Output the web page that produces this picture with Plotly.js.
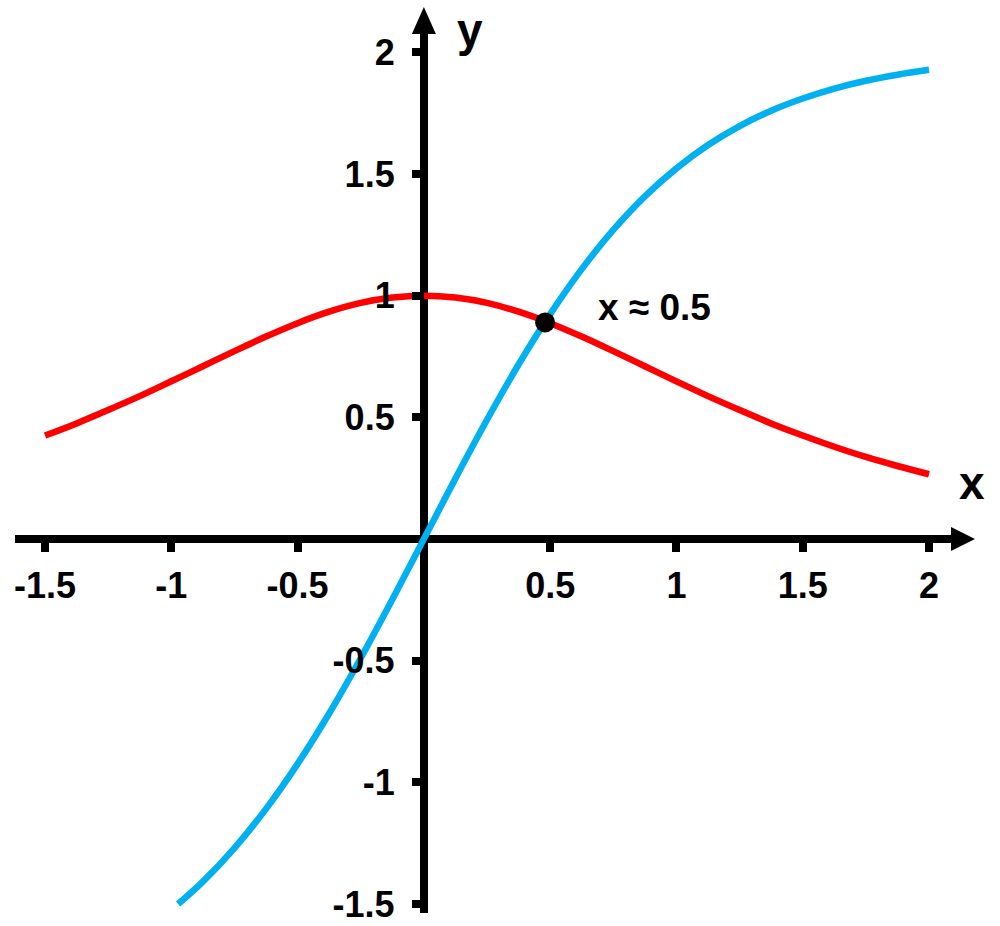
<!DOCTYPE html>
<html>
<head>
<meta charset="utf-8">
<script src="https://cdn.plot.ly/plotly-3.0.1.min.js"></script>
<style>
  html, body { margin: 0; padding: 0; background: #fff; }
  #chart { width: 1000px; height: 926px; }
</style>
</head>
<body>
<div id="chart"></div>
<script>
// values (every 1/8 along x)
var redX = [-1.5, -1.375, -1.25, -1.125, -1, -0.875, -0.75, -0.625, -0.5, -0.375, -0.25, -0.125, 0,
	0.125, 0.25, 0.375, 0.5, 0.625, 0.75, 0.875, 1, 1.125, 1.25, 1.375, 1.5, 1.625, 1.75, 1.875, 2]
var redY = [0.425, 0.475, 0.530, 0.587, 0.648, 0.710, 0.772, 0.832, 0.887, 0.934, 0.970, 0.992, 1.0,
	0.992, 0.970, 0.934, 0.887, 0.832, 0.772, 0.710, 0.648, 0.587, 0.530, 0.475, 0.425, 0.379, 0.337, 0.300, 0.266]

var blueX = [-0.973, -0.875, -0.75, -0.625, -0.5, -0.375, -0.25, -0.125, 0,
	0.125, 0.25, 0.375, 0.5, 0.625, 0.75, 0.875, 1, 1.125, 1.25, 1.375, 1.5, 1.625, 1.75, 1.875, 2]
var blueY = [-1.5, -1.408, -1.270, -1.109, -0.924, -0.717, -0.490, -0.249, 0,
	0.249, 0.490, 0.717, 0.924, 1.109, 1.270, 1.408, 1.523, 1.619, 1.697, 1.760, 1.810, 1.851, 1.883, 1.908, 1.928]

var crossX = [0.48]
var crossY = [0.89]

var xTicks = [-1.5, -1, -0.5, 0.5, 1, 1.5, 2]
var xTickText = ['-1.5', '-1', '-0.5', '0.5', '1', '1.5', '2']
var yTicks = [-1.5, -1, -0.5, 0.5, 1, 1.5, 2]
var yTickText = ['-1.5', '-1', '-0.5', '0.5', '1', '1.5', '2']

var xRange = [-1.6188, 2.1029]
var yRange = [-1.537, 2.0917]
var xDomain = [0.015, 0.955]
var yDomain = [0.01404, 0.9676]

// where zero sits inside each domain (axes cross at origin)
function zeroPos(range, domain) {
	return domain[0] + (0 - range[0]) / (range[1] - range[0]) * (domain[1] - domain[0])
}

var font = {family: 'Liberation Sans, Arial, sans-serif', color: '#000', weight: 'bold'}
var tickFont = Object.assign({}, font, {size: 36})

var redTrace = {
	x: redX, y: redY,
	mode: 'lines',
	line: {color: '#ff0000', width: 6.5, shape: 'spline'},
	hoverinfo: 'skip'
};

var blueTrace = {
	x: blueX, y: blueY,
	mode: 'lines',
	line: {color: '#00b0f0', width: 6.5, shape: 'spline'},
	hoverinfo: 'skip'
};

var dotTrace = {
	x: crossX, y: crossY,
	mode: 'markers',
	marker: {color: '#000', size: 20},
	hoverinfo: 'skip'
};

var layout = {
	width: 1000,
	height: 926,
	margin: {l: 0, r: 0, t: 0, b: 0},
	paper_bgcolor: '#fff',
	plot_bgcolor: '#fff',
	showlegend: false,
	xaxis: {
		domain: xDomain,
		range: xRange,
		anchor: 'free',
		position: zeroPos(yRange, yDomain),
		showgrid: false,
		showline: false,
		zeroline: true,
		zerolinecolor: '#000',
		zerolinewidth: 8,
		ticks: 'outside',
		ticklen: 12,
		tickwidth: 8,
		tickcolor: '#000',
		tickvals: xTicks,
		ticktext: xTickText,
		tickfont: tickFont,
		ticklabelstandoff: 3
	},
	yaxis: {
		domain: yDomain,
		range: yRange,
		anchor: 'free',
		position: zeroPos(xRange, xDomain),
		showgrid: false,
		showline: false,
		zeroline: true,
		zerolinecolor: '#000',
		zerolinewidth: 8,
		ticks: 'outside',
		ticklen: 12,
		tickwidth: 8,
		tickcolor: '#000',
		tickvals: yTicks,
		ticktext: yTickText,
		tickfont: tickFont,
		ticklabelstandoff: 10
	},
	shapes: [
		// arrow heads on the ends of the axes
		{type: 'path', xref: 'paper', yref: 'y', xsizemode: 'pixel', ysizemode: 'pixel',
		 xanchor: xDomain[1], yanchor: 0, path: 'M-4,-12 L20,0 L-4,12 Z',
		 fillcolor: '#000', line: {width: 0}},
		{type: 'path', xref: 'x', yref: 'paper', xsizemode: 'pixel', ysizemode: 'pixel',
		 xanchor: 0, yanchor: yDomain[1], path: 'M-12,-4 L0,23 L12,-4 Z',
		 fillcolor: '#000', line: {width: 0}}
	],
	annotations: [
		{x: 0.455, y: 0.9676, xref: 'paper', yref: 'paper', xanchor: 'left', yanchor: 'middle',
		 text: 'y', showarrow: false, font: Object.assign({}, font, {size: 46})},
		{x: 0.972, y: 0.4784, xref: 'paper', yref: 'paper', xanchor: 'center', yanchor: 'middle',
		 text: 'x', showarrow: false, font: Object.assign({}, font, {size: 46})},
		{x: 0.68, y: 0.95, xref: 'x', yref: 'y', xanchor: 'left', yanchor: 'middle',
		 text: 'x \u2248 0.5', showarrow: false, font: Object.assign({}, font, {size: 37})}
	]
};

Plotly.newPlot('chart', [redTrace, blueTrace, dotTrace], layout, {staticPlot: true});
</script>
</body>
</html>
